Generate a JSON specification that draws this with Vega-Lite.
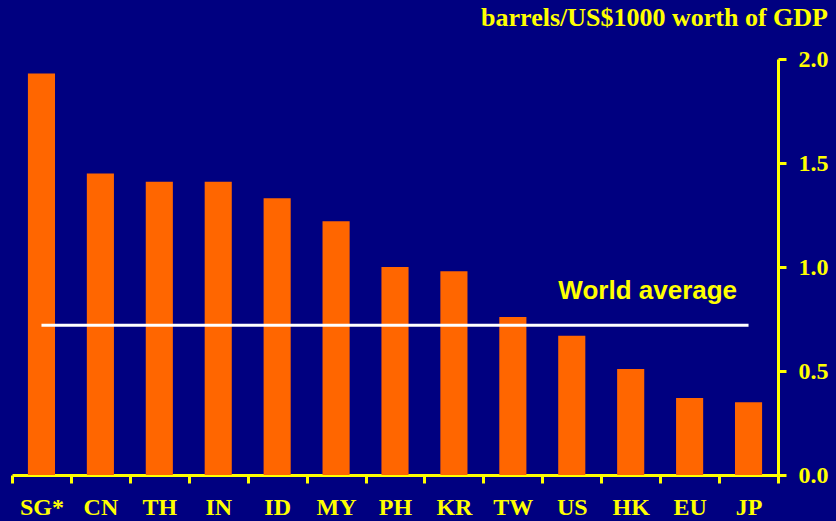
{
  "$schema": "https://vega.github.io/schema/vega-lite/v6.json",
  "width": 766,
  "height": 416,
  "autosize": {"type": "none"},
  "padding": {"left": 12, "top": 59, "right": 58, "bottom": 46},
  "background": "#000080",
  "config": {"view": {"stroke": null}},
  "title": {
    "text": "barrels/US$1000 worth of GDP",
    "anchor": "end",
    "frame": "bounds",
    "color": "#FFFF00",
    "font": "Liberation Serif",
    "fontSize": 26,
    "fontWeight": "bold",
    "offset": 16
  },
  "datasets": {
    "bars": [
      {"region": "SG*", "value": 1.93},
      {"region": "CN", "value": 1.45},
      {"region": "TH", "value": 1.41},
      {"region": "IN", "value": 1.41},
      {"region": "ID", "value": 1.33},
      {"region": "MY", "value": 1.22},
      {"region": "PH", "value": 1.0},
      {"region": "KR", "value": 0.98},
      {"region": "TW", "value": 0.76},
      {"region": "US", "value": 0.67},
      {"region": "HK", "value": 0.51},
      {"region": "EU", "value": 0.37},
      {"region": "JP", "value": 0.35}
    ],
    "avg": [
      {"from": "SG*", "to": "JP", "value": 0.72, "label": "World average", "labelAt": "HK", "labelY": 0.885}
    ]
  },
  "layer": [
    {
      "data": {"name": "bars"},
      "mark": {"type": "bar", "color": "#FF6600", "width": {"band": 0.46}},
      "encoding": {
        "x": {
          "field": "region",
          "type": "nominal",
          "sort": null,
          "scale": {"paddingInner": 0, "paddingOuter": 0},
          "axis": {
            "title": null,
            "labelAngle": 0,
            "labelColor": "#FFFF00",
            "labelFont": "Liberation Serif",
            "labelFontSize": 24,
            "labelFontWeight": "bold",
            "labelPadding": 12,
            "domainColor": "#FFFF00",
            "domainWidth": 3,
            "tickColor": "#FFFF00",
            "tickWidth": 3,
            "tickSize": 8,
            "tickBand": "extent"
          }
        },
        "y": {
          "field": "value",
          "type": "quantitative",
          "scale": {"domain": [0, 2]},
          "axis": {
            "orient": "right",
            "title": null,
            "values": [0, 0.5, 1, 1.5, 2],
            "format": ".1f",
            "grid": false,
            "labelColor": "#FFFF00",
            "labelFont": "Liberation Serif",
            "labelFontSize": 24,
            "labelFontWeight": "bold",
            "labelPadding": 12,
            "domainColor": "#FFFF00",
            "domainWidth": 3,
            "tickColor": "#FFFF00",
            "tickWidth": 3,
            "tickSize": 8
          }
        }
      }
    },
    {
      "data": {"name": "avg"},
      "mark": {"type": "rule", "color": "#FFFFFF", "strokeWidth": 3},
      "encoding": {
        "x": {"field": "from", "type": "nominal", "sort": null},
        "x2": {"field": "to"},
        "y": {"field": "value", "type": "quantitative"}
      }
    },
    {
      "data": {"name": "avg"},
      "mark": {"type": "text", "color": "#FFFF00", "font": "Liberation Sans", "fontSize": 26, "fontWeight": "bold", "dx": 17, "align": "center", "baseline": "middle"},
      "encoding": {
        "x": {"field": "labelAt", "type": "nominal", "sort": null},
        "y": {"field": "labelY", "type": "quantitative"},
        "text": {"field": "label"}
      }
    }
  ]
}
